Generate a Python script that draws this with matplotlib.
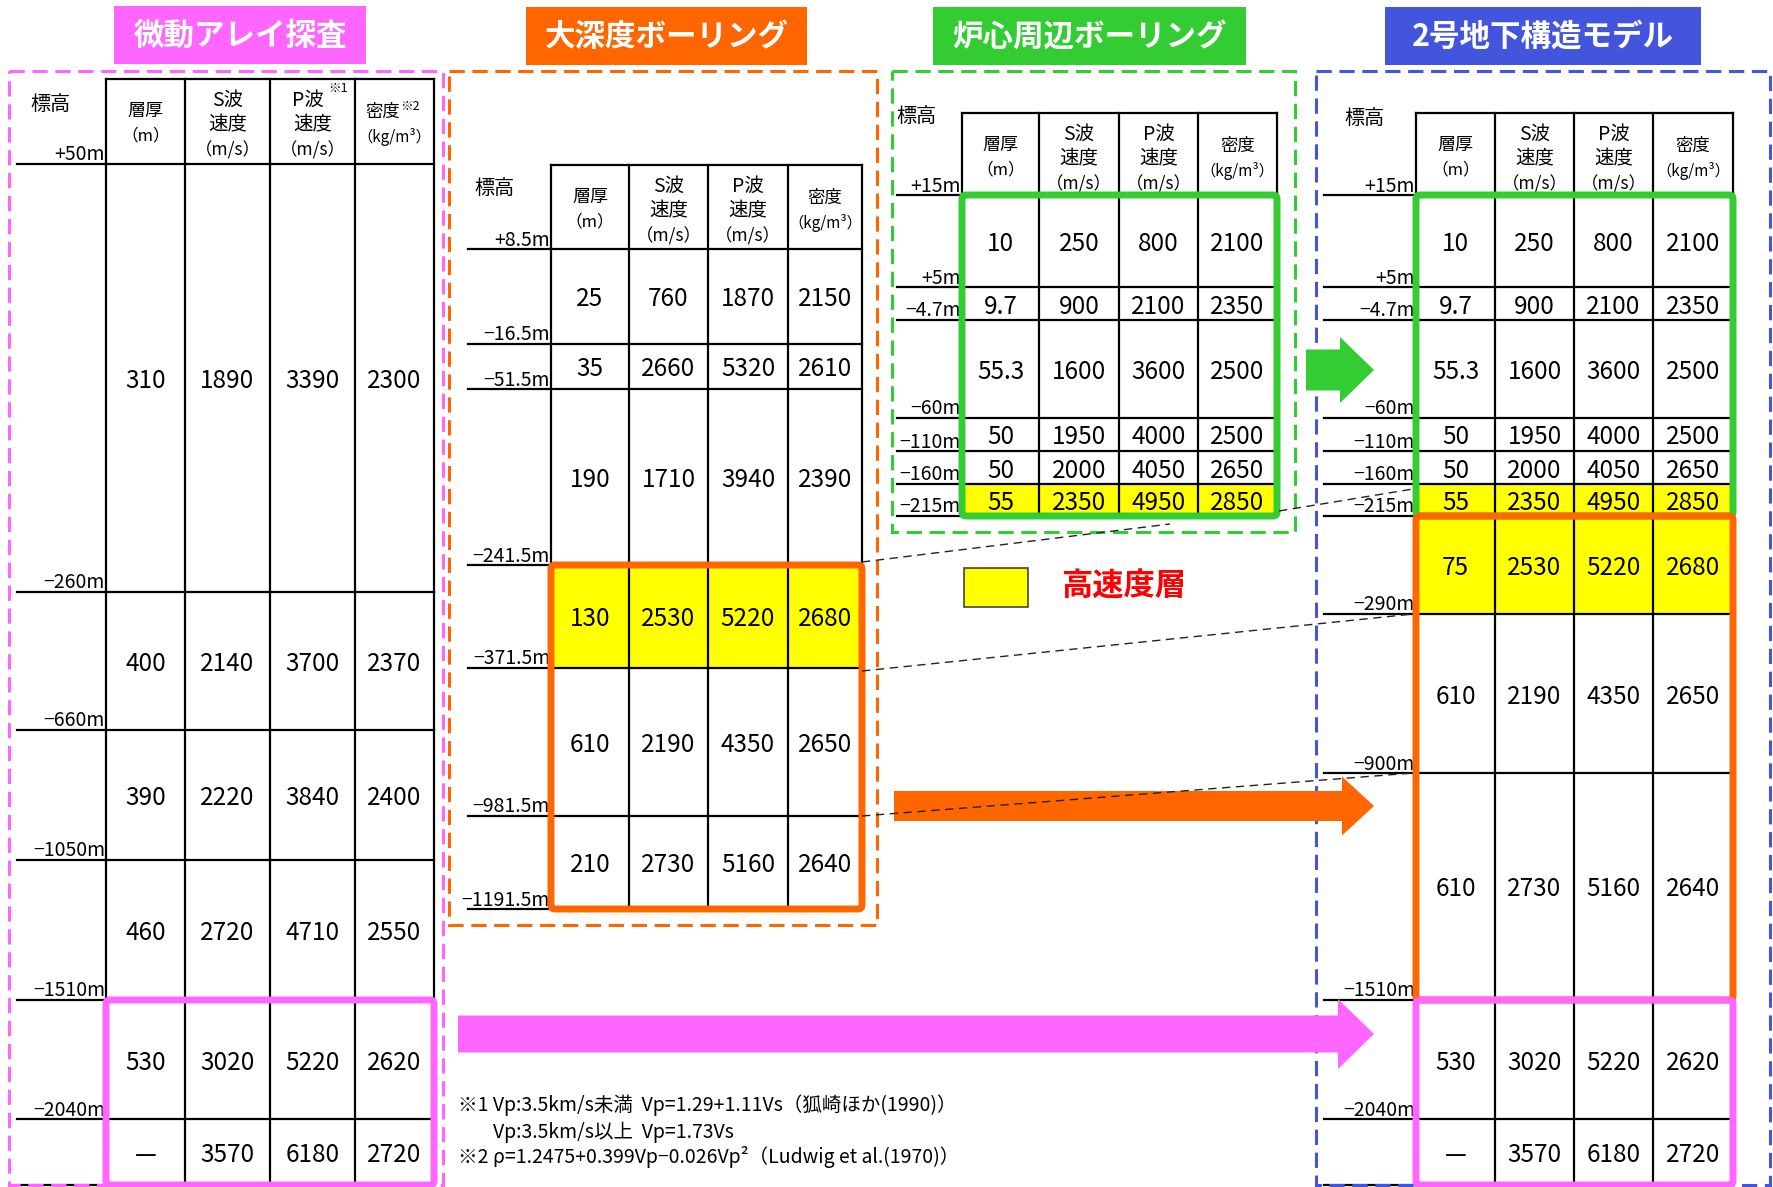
import matplotlib
matplotlib.use('Agg')
import matplotlib.pyplot as plt
from matplotlib.patches import Rectangle, FancyBboxPatch, FancyArrow

plt.rcParams['font.family'] = ['Noto Sans CJK JP', 'DejaVu Sans']

# ---- data ----
p1_elev = ['+50m', '−260m', '−660m', '−1050m', '−1510m', '−2040m']
p1_thick = ['310', '400', '390', '460', '530', '—']
p1_vs = [1890, 2140, 2220, 2720, 3020, 3570]
p1_vp = [3390, 3700, 3840, 4710, 5220, 6180]
p1_rho = [2300, 2370, 2400, 2550, 2620, 2720]

p2_elev = ['+8.5m', '−16.5m', '−51.5m', '−241.5m', '−371.5m', '−981.5m', '−1191.5m']
p2_thick = ['25', '35', '190', '130', '610', '210']
p2_vs = [760, 2660, 1710, 2530, 2190, 2730]
p2_vp = [1870, 5320, 3940, 5220, 4350, 5160]
p2_rho = [2150, 2610, 2390, 2680, 2650, 2640]

p3_elev = ['+15m', '+5m', '−4.7m', '−60m', '−110m', '−160m', '−215m']
p3_thick = ['10', '9.7', '55.3', '50', '50', '55']
p3_vs = [250, 900, 1600, 1950, 2000, 2350]
p3_vp = [800, 2100, 3600, 4000, 4050, 4950]
p3_rho = [2100, 2350, 2500, 2500, 2650, 2850]

p4_elev = ['+15m', '+5m', '−4.7m', '−60m', '−110m', '−160m', '−215m',
           '−290m', '−900m', '−1510m', '−2040m']
p4_thick = ['10', '9.7', '55.3', '50', '50', '55', '75', '610', '610', '530', '—']
p4_vs = [250, 900, 1600, 1950, 2000, 2350, 2530, 2190, 2730, 3020, 3570]
p4_vp = [800, 2100, 3600, 4000, 4050, 4950, 5220, 4350, 5160, 5220, 6180]
p4_rho = [2100, 2350, 2500, 2500, 2650, 2850, 2680, 2650, 2640, 2620, 2720]

titles = ['微動アレイ探査', '大深度ボーリング', '炉心周辺ボーリング', '2号地下構造モデル']

notes = ['※1 Vp:3.5km/s未満  Vp=1.29+1.11Vs（狐崎ほか(1990)）',
         'Vp:3.5km/s以上  Vp=1.73Vs',
         '※2 ρ=1.2475+0.399Vp−0.026Vp²（Ludwig et al.(1970)）']

PINK = '#ff66ff'
ORANGE = '#ff6600'
GREEN = '#33cc33'
BLUE = '#4455dd'
YELLOW = '#ffff00'

# ---- layout (pixel space) ----
panels = [
    dict(elev=p1_elev, thick=p1_thick, vs=p1_vs, vp=p1_vp, rho=p1_rho,
         cols=[106, 185, 270, 355, 434], top=79,
         rows=[164, 592, 730, 860, 1000, 1119, 1185],
         gx=17, hyo=(30, 104), notes=True, yellow=[],
         title_box=(114, 6, 366, 64), color=PINK, border=(9, 71, 443, 1185),
         boxes=[(4, 6, PINK)]),
    dict(elev=p2_elev, thick=p2_thick, vs=p2_vs, vp=p2_vp, rho=p2_rho,
         cols=[551, 629, 708, 788, 862], top=165,
         rows=[249, 344, 389, 565, 668, 816, 909],
         gx=468, hyo=(474, 188), notes=False, yellow=[3],
         title_box=(526, 7, 807, 65), color=ORANGE, border=(449, 71, 877, 925),
         boxes=[(3, 6, ORANGE)]),
    dict(elev=p3_elev, thick=p3_thick, vs=p3_vs, vp=p3_vp, rho=p3_rho,
         cols=[962, 1039, 1119, 1198, 1277], top=113,
         rows=[195, 287, 320, 418, 451, 484, 516],
         gx=897, hyo=(896, 117), notes=False, yellow=[5],
         title_box=(933, 7, 1246, 65), color=GREEN, border=(892, 71, 1295, 532),
         boxes=[(0, 6, GREEN)]),
    dict(elev=p4_elev, thick=p4_thick, vs=p4_vs, vp=p4_vp, rho=p4_rho,
         cols=[1416, 1495, 1574, 1653, 1733], top=113,
         rows=[195, 287, 320, 418, 451, 484, 516, 614, 773, 1000, 1119, 1185],
         gx=1324, hyo=(1344, 119), notes=False, yellow=[5, 6],
         title_box=(1385, 7, 1701, 65), color=BLUE, border=(1316, 71, 1770, 1185),
         boxes=[(0, 6, GREEN), (6, 9, ORANGE), (9, 11, PINK)]),
]


def draw_header(ax, cols, top, with_notes):
    cx = [(cols[i] + cols[i + 1]) / 2 for i in range(4)]
    ax.text(cx[0], top + 32, '層厚', fontsize=13, ha='center', va='center')
    ax.text(cx[0], top + 57, '（m）', fontsize=12, ha='center', va='center')
    for i, w in [(1, 'S波'), (2, 'P波')]:
        x = cx[i]
        if with_notes and i == 2:
            ax.text(x - 5, top + 21, w, fontsize=14, ha='center', va='center')
            ax.text(x + 16, top + 9, '※1', fontsize=9, ha='left', va='center')
        else:
            ax.text(x, top + 21, w, fontsize=14, ha='center', va='center')
        ax.text(x, top + 46, '速度', fontsize=14, ha='center', va='center')
        ax.text(x, top + 71, '（m/s）', fontsize=12.5, ha='center', va='center')
    if with_notes:
        ax.text(cx[3] - 12, top + 33, '密度', fontsize=12.5, ha='center', va='center')
        ax.text(cx[3] + 6, top + 27, '※2', fontsize=9, ha='left', va='center')
    else:
        ax.text(cx[3], top + 33, '密度', fontsize=12.5, ha='center', va='center')
    ax.text(cx[3], top + 58, '（kg/m³）', fontsize=11, ha='center', va='center')


def draw_panel(ax, p):
    cols, rows, top = p['cols'], p['rows'], p['top']
    # yellow high-velocity rows
    for r in p['yellow']:
        ax.add_patch(Rectangle((cols[0], rows[r]), cols[-1] - cols[0],
                               rows[r + 1] - rows[r], color=YELLOW, lw=0, zorder=1))
    # grid lines
    ax.plot([cols[0], cols[-1]], [top, top], color='black', lw=1.6, zorder=2)
    for y in rows:
        ax.plot([p['gx'], cols[-1]], [y, y], color='black', lw=1.6, zorder=2)
    for x in cols:
        ax.plot([x, x], [top, rows[-1]], color='black', lw=1.6, zorder=2)
    draw_header(ax, cols, top, p['notes'])
    ax.text(p['hyo'][0], p['hyo'][1], '標高', fontsize=14.5, ha='left', va='center')
    for i, lab in enumerate(p['elev']):
        ax.text(cols[0] - 1, rows[i] - 9, lab, fontsize=14, ha='right', va='center')
    # values
    cx = [(cols[i] + cols[i + 1]) / 2 for i in range(4)]
    for r in range(len(p['thick'])):
        yc = (rows[r] + rows[r + 1]) / 2 + 3
        vals = [p['thick'][r], p['vs'][r], p['vp'][r], p['rho'][r]]
        for c, v in enumerate(vals):
            ax.text(cx[c], yc, str(v), fontsize=17.5, ha='center', va='center', zorder=5)
    # thick coloured frames
    for r0, r1, col in p['boxes']:
        ax.add_patch(FancyBboxPatch((cols[0], rows[r0]), cols[-1] - cols[0],
                                    rows[r1] - rows[r0],
                                    boxstyle='round,pad=0,rounding_size=4',
                                    fill=False, ec=col, lw=5, zorder=4))
    # dashed panel border
    x0, y0, x1, y1 = p['border']
    ax.add_patch(Rectangle((x0, y0), x1 - x0, y1 - y0, fill=False, ec=p['color'],
                           lw=2.2, ls=(0, (5, 2.5)), zorder=3))
    # title
    tx0, ty0, tx1, ty1 = p['title_box']
    ax.add_patch(Rectangle((tx0, ty0), tx1 - tx0, ty1 - ty0, color=p['color'], lw=0))


fig = plt.figure(figsize=(17.73, 11.87), dpi=100)
ax = fig.add_axes([0, 0, 1, 1])
ax.set_xlim(0, 1773)
ax.set_ylim(1187, 0)
ax.axis('off')

for p, t in zip(panels, titles):
    draw_panel(ax, p)
    tx0, ty0, tx1, ty1 = p['title_box']
    ax.text((tx0 + tx1) / 2, (ty0 + ty1) / 2 + 1, t, fontsize=22, fontweight='bold',
            color='white', ha='center', va='center')

# block arrows
arrows = [(1306, 370, 68, 41, 66, 34, GREEN),
          (894, 806, 480, 30, 59, 32, ORANGE),
          (458, 1034, 916, 37, 70, 36, PINK)]
for x, y, dx, w, hw, hl, col in arrows:
    ax.add_patch(FancyArrow(x, y, dx, 0, width=w, head_width=hw, head_length=hl,
                            length_includes_head=True, color=col, lw=0, zorder=3))

# thin dashed connection lines
links = [((862, 562), (1170, 524)),
         ((1279, 511), (1413, 489)),
         ((862, 671), (1413, 614)),
         ((862, 816), (1413, 773))]
for (xa, ya), (xb, yb) in links:
    ax.plot([xa, xb], [ya, yb], color='#222222', lw=1, ls=(0, (6, 4)), zorder=6)

# legend
ax.add_patch(Rectangle((964, 568), 64, 39, fc=YELLOW, ec='#444444', lw=1.2))
ax.text(1061, 587, '高速度層', fontsize=22.5, fontweight='bold', color='#ff0000',
        ha='left', va='center')

# footnotes
ax.text(458, 1105, notes[0], fontsize=14, ha='left', va='center')
ax.text(493, 1132, notes[1], fontsize=14, ha='left', va='center')
ax.text(458, 1157, notes[2], fontsize=14, ha='left', va='center')

fig.savefig('out.png', dpi=100)
